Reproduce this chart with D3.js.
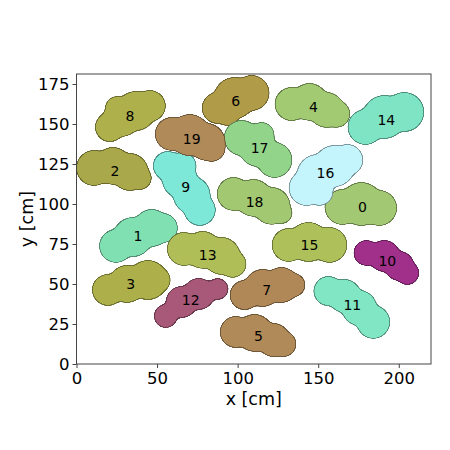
<!DOCTYPE html>
<html><head><meta charset="utf-8">
<script src="https://cdn.jsdelivr.net/npm/d3@7"></script>
<style>body{margin:0;background:#fff}svg{display:block}text{font-family:"DejaVu Sans",sans-serif}</style>
</head><body><div id="chart"></div>
<script>
// ---- data (cm) ----
const blobIds = [0,1,2,3,4,5,6,7,8,9,10,11,12,13,14,15,16,17,18,19];
const blobColors = ["#a3c873","#80e0b2","#a9a84a","#adb04a","#a2ca72","#b08a58","#b09c48","#b08858","#aeb04c","#7ee8d8",
                    "#a0308a","#80e6c4","#a85878","#b0be58","#7ee4c4","#aec05a","#c4f4fc","#92d48a","#a2c872","#b08a58"];
const labelX = [177.4,38.1,23.8,33.7,147.1,113.0,98.8,118.0,33.1,67.8,192.9,171.2,70.9,81.4,192.3,144.6,154.5,113.6,110.5,71.5];
const labelY = [98.1,80.0,120.6,50.0,160.6,17.5,164.4,46.3,155.0,110.6,64.4,36.9,40.0,68.1,152.5,74.4,119.4,135.0,101.3,140.6];
// circles making each blob: [x, y, r] in cm
const blobCircles = [
  [[165.0,98.1,10.5],[176.8,100.0,13.0],[187.9,97.5,10.5]],
  [[24.5,73.8,9.9],[35.0,79.4,11.8],[46.7,85.0,11.1],[53.6,85.0,8.7]],
  [[10.8,122.5,10.5],[22.6,123.8,11.1],[33.1,120.0,11.1],[39.3,116.3,6.8]],
  [[19.5,46.3,9.3],[31.3,50.0,11.1],[44.3,52.5,11.8],[49.8,52.5,8.0]],
  [[133.4,162.5,9.9],[144.6,163.8,11.1],[155.1,158.8,10.5],[161.3,156.3,8.0]],
  [[98.8,20.0,9.3],[110.5,19.4,11.1],[122.3,15.0,9.9],[128.5,12.5,7.4]],
  [[87.6,160.0,9.3],[98.1,166.3,12.4],[108.7,169.4,10.5],[93.8,156.3,6.8]],
  [[104.3,43.1,8.7],[115.5,47.5,11.1],[127.2,49.4,10.5],[134.7,49.4,6.8]],
  [[20.7,148.1,8.7],[28.2,153.8,11.1],[36.8,158.1,11.8],[45.5,161.3,9.3],[25.1,160.0,6.8]],
  [[56.7,123.8,8.7],[64.1,115.0,10.5],[71.5,105.6,11.1],[76.5,96.3,9.3],[65.9,123.8,8.0]],
  [[179.9,69.4,7.4],[191.0,67.5,9.3],[200.3,61.3,8.7],[205.3,56.9,6.8]],
  [[156.3,45.6,8.7],[166.3,42.5,9.9],[175.5,35.0,10.5],[184.2,26.3,9.9]],
  [[55.4,30.0,6.8],[65.3,38.8,9.3],[75.9,43.8,9.3],[87.6,46.9,6.2]],
  [[66.6,71.9,9.9],[78.3,71.3,11.1],[90.1,67.5,11.1],[96.9,62.5,8.0]],
  [[179.3,148.1,10.5],[191.0,154.4,13.0],[203.4,157.5,11.8],[184.8,156.3,6.8]],
  [[131.6,74.4,9.9],[144.0,76.3,11.8],[157.0,74.4,10.5]],
  [[142.7,110.0,10.5],[149.5,118.1,12.4],[160.1,123.8,12.4],[168.1,127.5,9.3],[150.8,107.5,8.0]],
  [[102.5,141.3,10.5],[112.4,135.0,11.1],[122.9,127.5,10.5],[114.9,143.1,7.4]],
  [[97.5,106.3,9.9],[109.9,103.8,11.1],[121.1,98.8,11.1],[127.3,94.4,6.2]],
  [[59.1,143.8,9.9],[70.3,143.1,12.4],[80.8,138.8,11.1],[83.9,135.0,8.0]]
];
const xTicks = [0,50,100,150,200];
const yTicks = [0,25,50,75,100,125,150,175];
const xDomain = [0,220], yDomain = [0,181.25];

// ---- drawing ----
const W=450,H=450, L=76.5, R=431, T=74, B=364;
const svg = d3.select("#chart").append("svg").attr("width",W).attr("height",H);
const x = d3.scaleLinear().domain(xDomain).range([L,R]);
const y = d3.scaleLinear().domain(yDomain).range([B,T]);
const rs = v => x(v)-x(0);

// smoothing ("goo") filter to merge the circles into one soft cloud outline
const defs = svg.append("defs");
const f = defs.append("filter").attr("id","goo").attr("x","-25%").attr("y","-25%")
  .attr("width","150%").attr("height","150%").attr("color-interpolation-filters","sRGB");
f.append("feGaussianBlur").attr("in","SourceGraphic").attr("stdDeviation",2.6).attr("result","b");
f.append("feColorMatrix").attr("in","b").attr("type","matrix")
  .attr("values","1 0 0 0 0  0 1 0 0 0  0 0 1 0 0  0 0 0 24 -11");

const blobs = svg.append("g").selectAll("g").data(blobIds).join("g");
blobs.each(function(id){
  const g = d3.select(this);
  const col = blobColors[id];
  const edge = d3.color(col).darker(1.3).formatHex();
  g.append("g").attr("filter","url(#goo)")
    .selectAll("circle").data(blobCircles[id]).join("circle")
    .attr("cx",d=>x(d[0])).attr("cy",d=>y(d[1])).attr("r",d=>rs(d[2])+1)
    .attr("fill",edge);
  g.append("g").attr("filter","url(#goo)")
    .selectAll("circle").data(blobCircles[id]).join("circle")
    .attr("cx",d=>x(d[0])).attr("cy",d=>y(d[1])).attr("r",d=>rs(d[2]))
    .attr("fill",col);
  g.append("text").attr("x",x(labelX[id])).attr("y",y(labelY[id]))
    .attr("text-anchor","middle").attr("dominant-baseline","central")
    .attr("font-size",14).attr("fill","#000").text(id);
});

// frame
svg.append("rect").attr("x",L).attr("y",T).attr("width",R-L).attr("height",B-T)
  .attr("fill","none").attr("stroke","#444").attr("stroke-width",1);

const xa = svg.append("g").attr("transform",`translate(0,${B})`)
  .call(d3.axisBottom(x).tickValues(xTicks).tickSize(4).tickPadding(4).tickFormat(d3.format("d")));
const ya = svg.append("g").attr("transform",`translate(${L},0)`)
  .call(d3.axisLeft(y).tickValues(yTicks).tickSize(4).tickPadding(3).tickFormat(d3.format("d")));
[xa,ya].forEach(a=>{
  a.select(".domain").remove();
  a.selectAll("line").attr("stroke","#444");
  a.selectAll("text").attr("font-size",16.5).attr("fill","#000").style("font-family","DejaVu Sans");
});
svg.append("text").attr("x",(L+R)/2).attr("y",405).attr("text-anchor","middle")
  .attr("font-size",17.5).text("x [cm]");
svg.append("text").attr("transform",`translate(33,${(T+B)/2}) rotate(-90)`).attr("text-anchor","middle")
  .attr("font-size",17.5).text("y [cm]");
</script></body></html>
